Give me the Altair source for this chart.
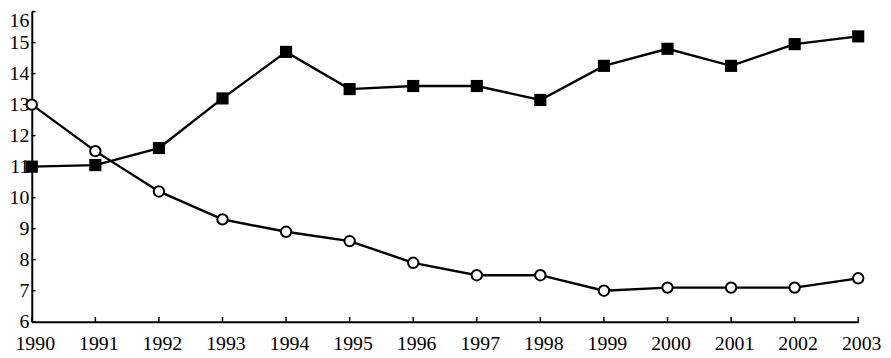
import altair as alt
import pandas as pd

years = list(range(1990, 2004))
series_square = [11.0, 11.05, 11.6, 13.2, 14.7, 13.5, 13.6, 13.6, 13.15, 14.25, 14.8, 14.25, 14.95, 15.2]
series_circle = [13.0, 11.5, 10.2, 9.3, 8.9, 8.6, 7.9, 7.5, 7.5, 7.0, 7.1, 7.1, 7.1, 7.4]
y_ticks = [6, 7, 8, 9, 10, 11, 12, 13, 14, 15, 16]

df_sq = pd.DataFrame({"year": years, "value": series_square})
df_ci = pd.DataFrame({"year": years, "value": series_circle})
df_xt = pd.DataFrame({"year": years, "y0": [6] * len(years), "y1": [6.15] * len(years)})
df_yt = pd.DataFrame({"v": y_ticks, "x0": [1990] * len(y_ticks), "x1": [1990.06] * len(y_ticks)})

FONT = "Liberation Serif"

xscale = alt.Scale(domain=[1990, 2003], nice=False, zero=False)
yscale = alt.Scale(domain=[6, 16], nice=False, zero=False)

xaxis = alt.Axis(values=years, format="d", title=None, grid=False, ticks=False,
                 labelFont=FONT, labelFontSize=20, labelColor="black", labelPadding=12,
                 labelOffset=3,
                 labelOverlap=False, labelFlush=False, domainColor="black", domainWidth=2)
yaxis = alt.Axis(values=y_ticks, format="d", title=None, grid=False, ticks=False,
                 labelFont=FONT, labelFontSize=20, labelColor="black", labelPadding=3,
                 labelOffset={"condition": {"test": "datum.value == 16", "value": 9}, "value": 0},
                 labelOverlap=False, labelFlush=False, domainColor="black", domainWidth=2)

base_x = alt.X("year:Q", scale=xscale, axis=xaxis)
base_y = alt.Y("value:Q", scale=yscale, axis=yaxis)

line_sq = alt.Chart(df_sq).mark_line(color="black", strokeWidth=2.4).encode(x=base_x, y=base_y)
line_ci = alt.Chart(df_ci).mark_line(color="black", strokeWidth=2.4).encode(x=base_x, y=base_y)
pts_sq = alt.Chart(df_sq).mark_point(shape="square", filled=True, color="black", size=150, opacity=1).encode(x=base_x, y=base_y)
pts_ci = alt.Chart(df_ci).mark_point(shape="circle", filled=False, fill="white", stroke="black",
                                     strokeWidth=2, size=110, opacity=1, fillOpacity=1).encode(x=base_x, y=base_y)

xt = alt.Chart(df_xt).mark_rule(color="black", strokeWidth=1.5).encode(
    x=alt.X("year:Q", scale=xscale, axis=xaxis), y=alt.Y("y0:Q", scale=yscale, axis=yaxis), y2="y1:Q")
yt = alt.Chart(df_yt).mark_rule(color="black", strokeWidth=1.5).encode(
    y=alt.Y("v:Q", scale=yscale, axis=yaxis), x=alt.X("x0:Q", scale=xscale, axis=xaxis), x2="x1:Q")

chart = alt.layer(line_sq, line_ci, xt, yt, pts_sq, pts_ci).properties(
    width=834, height=313,
    autosize=alt.AutoSizeParams(type="none"),
    padding={"left": 24, "top": 2, "right": 25, "bottom": 35},
    background="white",
).configure_view(stroke=None)

chart.save("out.html", embed_options={"renderer": "svg", "actions": False})
